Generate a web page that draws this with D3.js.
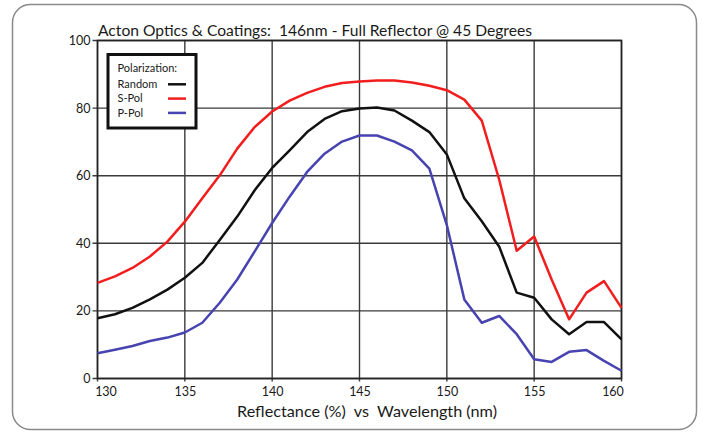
<!DOCTYPE html>
<html>
<head>
<meta charset="utf-8">
<script src="https://cdn.jsdelivr.net/npm/d3@7"></script>
<style>
  html, body { margin: 0; padding: 0; background: #fff; }
  svg { display: block; }
  text { font-family: Lato, "Open Sans", sans-serif; fill: #1a1a1a; white-space: pre; }
</style>
</head>
<body>
<svg id="chart" width="702" height="433"></svg>
<script>
// ---- data ----
const wavelengths = d3.range(130, 161); // 130..160 nm
const randomPol = [17.8, 19.0, 20.9, 23.4, 26.3, 29.8, 34.2, 41.0, 47.9, 55.7, 62.3,
                   67.5, 72.9, 76.8, 79.1, 79.9, 80.2, 79.3, 76.3, 72.9, 66.3,
                   53.3, 46.5, 39.0, 25.4, 23.9, 17.5, 13.1, 16.7, 16.7, 11.6];
const sPol = [28.3, 30.2, 32.7, 36.1, 40.5, 46.4, 53.3, 60.1, 68.0, 74.4, 79.0,
              82.2, 84.5, 86.3, 87.4, 87.9, 88.2, 88.2, 87.6, 86.6, 85.3,
              82.5, 76.3, 58.8, 37.8, 42.0, 29.3, 17.5, 25.4, 28.8, 20.9];
const pPol = [7.5, 8.5, 9.6, 11.1, 12.1, 13.6, 16.5, 22.4, 29.3, 37.6, 46.0,
              53.8, 61.1, 66.5, 70.1, 71.9, 71.9, 70.1, 67.5, 62.1, 45.4,
              23.4, 16.5, 18.5, 13.1, 5.7, 4.9, 7.9, 8.4, 5.2, 2.3];
const xTicks = [130, 135, 140, 145, 150, 155, 160];
const yTicks = [0, 20, 40, 60, 80, 100];
const seriesNames = ["Random", "S-Pol", "P-Pol"];
const seriesColors = ["#111111", "#f21d1d", "#4743b0"];
const seriesValues = [randomPol, sPol, pPol];
const titleText = "Acton Optics & Coatings:  146nm - Full Reflector @ 45 Degrees";
const xTitleText = "Reflectance (%)  vs  Wavelength (nm)";
const legendTitle = "Polarization:";

// ---- layout ----
const svg = d3.select("#chart");
const plot = { left: 97.5, right: 621.5, top: 40.5, bottom: 378.5 };
const x = d3.scaleLinear().domain([130, 160]).range([plot.left, plot.right]);
const y = d3.scaleLinear().domain([0, 100]).range([plot.bottom, plot.top]);

// outer rounded frame
svg.append("rect")
  .attr("x", 12.5).attr("y", 4.5).attr("width", 684).attr("height", 425)
  .attr("rx", 18).attr("ry", 18)
  .attr("fill", "#fff").attr("stroke", "#8a8a8a").attr("stroke-width", 1.5);

// grid
const grid = svg.append("g");
grid.selectAll("line.v").data(xTicks).join("line")
  .attr("x1", d => x(d)).attr("x2", d => x(d))
  .attr("y1", plot.top).attr("y2", plot.bottom + 3)
  .attr("stroke", "#3a3a3a").attr("stroke-width", 1.4);
grid.selectAll("line.h").data(yTicks).join("line")
  .attr("x1", plot.left - 5).attr("x2", plot.right)
  .attr("y1", d => y(d)).attr("y2", d => y(d))
  .attr("stroke", "#3a3a3a").attr("stroke-width", 1.4);

// plot frame
svg.append("rect")
  .attr("x", plot.left).attr("y", plot.top)
  .attr("width", plot.right - plot.left).attr("height", plot.bottom - plot.top)
  .attr("fill", "none").attr("stroke", "#222").attr("stroke-width", 1.6);

// axes labels via d3 axes (lines hidden, labels kept)
const yAxis = svg.append("g")
  .attr("transform", `translate(${plot.left},0)`)
  .call(d3.axisLeft(y).tickValues(yTicks).tickSize(0).tickPadding(7));
yAxis.select(".domain").remove();
yAxis.selectAll("text")
  .style("font-family", "Lato, sans-serif").style("font-size", "12.5px")
  .attr("fill", "#1a1a1a");

const xAxis = svg.append("g")
  .attr("transform", `translate(0,${plot.bottom})`)
  .call(d3.axisBottom(x).tickValues(xTicks).tickSize(0).tickPadding(9));
xAxis.select(".domain").remove();
xAxis.selectAll("text")
  .style("font-family", "Lato, sans-serif").style("font-size", "12.5px")
  .attr("fill", "#1a1a1a")
  .attr("dx", d => d === 130 ? 8 : (d === 160 ? -9 : 0));

// series lines
const line = d3.line()
  .x((d, i) => x(wavelengths[i]))
  .y(d => y(d));
seriesValues.forEach((vals, k) => {
  svg.append("path")
    .datum(vals)
    .attr("d", line)
    .attr("fill", "none")
    .attr("stroke", seriesColors[k])
    .attr("stroke-width", 2.5)
    .attr("stroke-linejoin", "round");
});

// title
svg.append("text")
  .attr("x", 98).attr("y", 35.5)
  .attr("textLength", 434).attr("lengthAdjust", "spacingAndGlyphs")
  .style("font-size", "15.5px")
  .text(titleText);

// x-axis title
svg.append("text")
  .attr("x", 237).attr("y", 416.5)
  .attr("textLength", 260).attr("lengthAdjust", "spacingAndGlyphs")
  .style("font-size", "16px")
  .text(xTitleText);

// legend
const lg = svg.append("g");
lg.append("rect")
  .attr("x", 108).attr("y", 54.5).attr("width", 88).attr("height", 73.5)
  .attr("fill", "#fff").attr("stroke", "#111").attr("stroke-width", 3);
lg.append("text").attr("x", 117.5).attr("y", 72)
  .style("font-size", "11px").text(legendTitle);
seriesNames.forEach((name, k) => {
  const yy = 84.3 + k * 14.3;
  lg.append("text").attr("x", 117.5).attr("y", yy + 3.8)
    .style("font-size", "11px").text(name);
  lg.append("line")
    .attr("x1", 168).attr("x2", 186).attr("y1", yy).attr("y2", yy)
    .attr("stroke", seriesColors[k]).attr("stroke-width", 2.5);
});
</script>
</body>
</html>
